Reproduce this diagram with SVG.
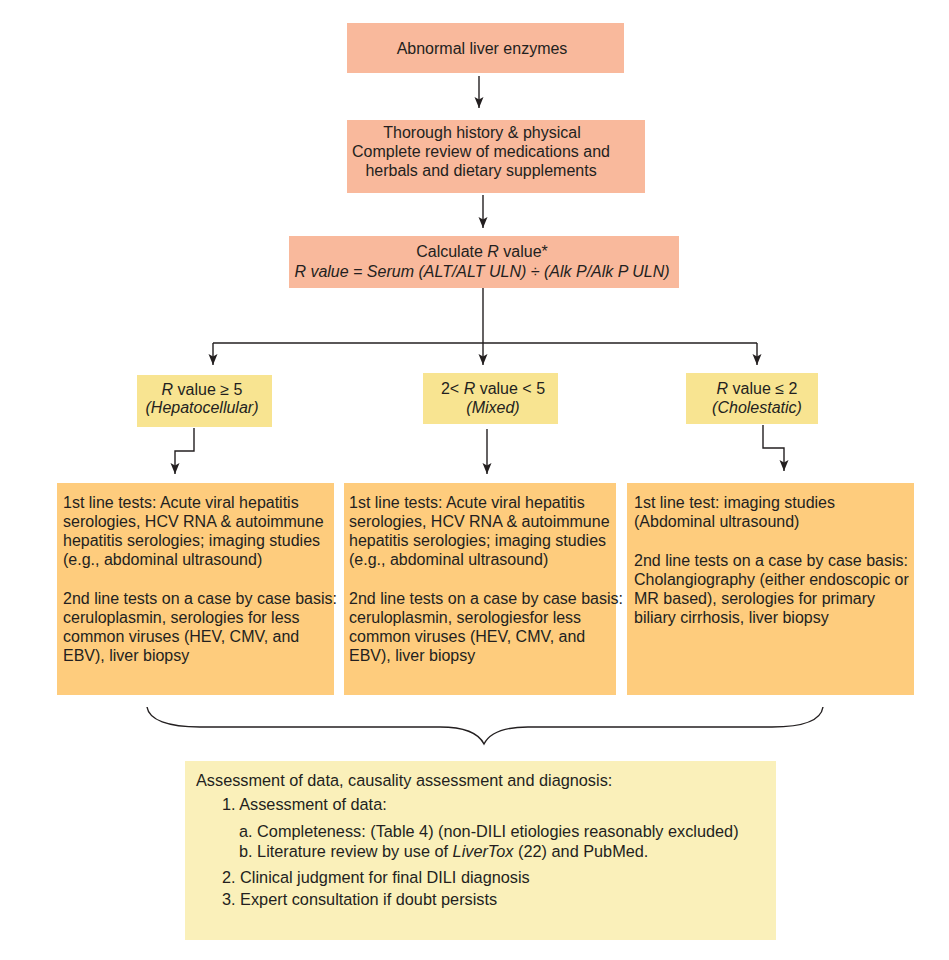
<svg xmlns="http://www.w3.org/2000/svg" width="949" height="960" viewBox="0 0 949 960">
<style>
text{font-family:"Liberation Sans",Arial,sans-serif;font-size:16px;fill:#231F20}
.c{text-anchor:middle}
.i{font-style:italic}
.b{font-size:16.3px}
.salmon{fill:#F9B99C}
.yel{fill:#F8E491}
.org{fill:#FECC7D}
.pale{fill:#FAF0BA}
.ln{fill:none;stroke:#231F20;stroke-width:1.4}
</style>
<defs>
<marker id="ah" markerUnits="userSpaceOnUse" markerWidth="12" markerHeight="10" refX="11" refY="4.5" orient="auto" viewBox="0 0 12 9">
<path d="M0,0 L11,4.5 L0,9 L2.5,4.5 z" fill="#231F20"/>
</marker>
</defs>
<rect width="949" height="960" fill="#fff"/>

<g id="n1">
<rect class="salmon" x="347" y="23" width="277" height="50"/>
<text class="c" x="482" y="54">Abnormal liver enzymes</text>
</g>

<g id="n2">
<rect class="salmon" x="347" y="120" width="298" height="73"/>
<text class="c" x="482" y="138">Thorough history &amp; physical</text>
<text class="c" x="481" y="157">Complete review of medications and</text>
<text class="c" x="481" y="176">herbals and dietary supplements</text>
</g>

<g id="n3">
<rect class="salmon" x="289" y="236" width="390" height="52"/>
<text class="c" x="482" y="257">Calculate <tspan class="i">R</tspan> value*</text>
<text class="c i" x="482" y="277">R value = Serum (ALT/ALT ULN) ÷ (Alk P/Alk P ULN)</text>
</g>

<g id="n4">
<rect class="yel" x="137" y="375" width="135" height="52"/>
<text class="c" x="202" y="395"><tspan class="i">R</tspan> value ≥ 5</text>
<text class="c i" x="202" y="413">(Hepatocellular)</text>
</g>

<g id="n5">
<rect class="yel" x="423" y="373" width="135" height="51"/>
<text class="c" x="493" y="394">2&lt; <tspan class="i">R</tspan> value &lt; 5</text>
<text class="c i" x="493" y="413">(Mixed)</text>
</g>

<g id="n6">
<rect class="yel" x="686" y="373" width="132" height="51"/>
<text class="c" x="757" y="394"><tspan class="i">R</tspan> value ≤ 2</text>
<text class="c i" x="757" y="413">(Cholestatic)</text>
</g>

<g id="n7">
<rect class="org" x="57" y="483" width="277" height="212"/>
<text x="63" y="508">1st line tests: Acute viral hepatitis</text>
<text x="63" y="527">serologies, HCV RNA &amp; autoimmune</text>
<text x="63" y="546">hepatitis serologies; imaging studies</text>
<text x="63" y="565">(e.g., abdominal ultrasound)</text>
<text x="63" y="604">2nd line tests on a case by case basis:</text>
<text x="63" y="623">ceruloplasmin, serologies for less</text>
<text x="63" y="642">common viruses (HEV, CMV, and</text>
<text x="63" y="661">EBV), liver biopsy</text>
</g>

<g id="n8">
<rect class="org" x="344" y="483" width="272" height="212"/>
<text x="349" y="508">1st line tests: Acute viral hepatitis</text>
<text x="349" y="527">serologies, HCV RNA &amp; autoimmune</text>
<text x="349" y="546">hepatitis serologies; imaging studies</text>
<text x="349" y="565">(e.g., abdominal ultrasound)</text>
<text x="349" y="604">2nd line tests on a case by case basis:</text>
<text x="349" y="623">ceruloplasmin, serologiesfor less</text>
<text x="349" y="642">common viruses (HEV, CMV, and</text>
<text x="349" y="661">EBV), liver biopsy</text>
</g>

<g id="n9">
<rect class="org" x="627" y="483" width="287" height="212"/>
<text x="634" y="508">1st line test: imaging studies</text>
<text x="634" y="527">(Abdominal ultrasound)</text>
<text x="634" y="566">2nd line tests on a case by case basis:</text>
<text x="634" y="585">Cholangiography (either endoscopic or</text>
<text x="634" y="604">MR based), serologies for primary</text>
<text x="634" y="623">biliary cirrhosis, liver biopsy</text>
</g>

<g id="n10">
<rect class="pale" x="185" y="761" width="591" height="179"/>
<text class="b" x="196" y="786">Assessment of data, causality assessment and diagnosis:</text>
<text class="b" x="222" y="810">1. Assessment of data:</text>
<text class="b" x="239" y="837">a. Completeness: (Table 4) (non-DILI etiologies reasonably excluded)</text>
<text class="b" x="239" y="857">b. Literature review by use of <tspan class="i">LiverTox</tspan> (22) and PubMed.</text>
<text class="b" x="222" y="883">2. Clinical judgment for final DILI diagnosis</text>
<text class="b" x="222" y="905">3. Expert consultation if doubt persists</text>
</g>

<g id="connectors">
<path class="ln" d="M479,76 V108" marker-end="url(#ah)"/>
<path class="ln" d="M483,195 V228" marker-end="url(#ah)"/>
<path class="ln" d="M483,288 V343"/>
<path class="ln" d="M213,343 H757"/>
<path class="ln" d="M213,343 V365" marker-end="url(#ah)"/>
<path class="ln" d="M483,343 V365" marker-end="url(#ah)"/>
<path class="ln" d="M757,343 V365" marker-end="url(#ah)"/>
<path class="ln" d="M194,428 V451 H175 V474" marker-end="url(#ah)"/>
<path class="ln" d="M487,429 V474" marker-end="url(#ah)"/>
<path class="ln" d="M763,425 V448 H784 V471" marker-end="url(#ah)"/>
<path class="ln" stroke-width="1.2" d="M147,707 C149,720 168,727 200,727 L440,727 C466,727 479,734 484,744 C489,734 502,727 528,727 L772,727 C804,727 821,720 823,707"/>
</g>
</svg>
